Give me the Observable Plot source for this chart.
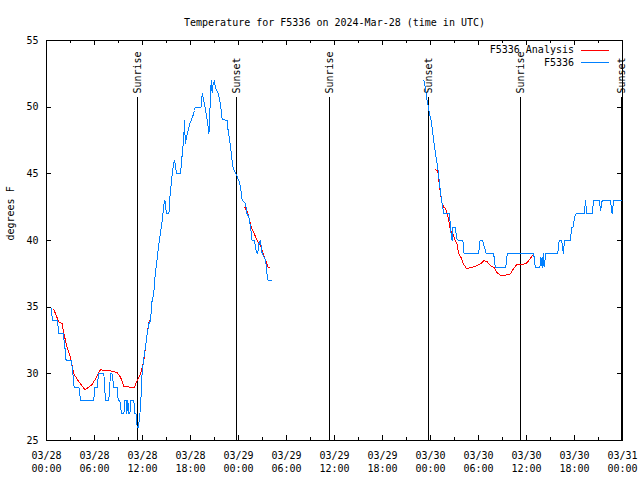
<!DOCTYPE html>
<html><head><meta charset="utf-8">
<script src="https://cdn.jsdelivr.net/npm/d3@7"></script>
<script src="https://cdn.jsdelivr.net/npm/@observablehq/plot@0.6"></script>
<style>
body{margin:0;background:#fff;}
#chart{position:relative;width:640px;height:480px;font-family:"DejaVu Sans Mono",monospace;}
#chart svg path, #chart svg line, #chart svg rect{shape-rendering:crispEdges;}
#legend{position:absolute;top:44px;right:31px;font-size:10px;line-height:12.5px;color:#000;}
.row{display:flex;align-items:center;justify-content:flex-end;white-space:pre;}
.sw{display:inline-block;width:28px;height:0;border-top:1px solid;margin-left:7px;}
</style></head>
<body><div id="chart"><div id="legend">
<div class="row">F5336 Analysis<span class="sw" style="border-color:#ff0000"></span></div>
<div class="row">F5336<span class="sw" style="border-color:#0080ff"></span></div>
</div></div>
<script>
// hours since 03/28 00:00 UTC, temperature in °F
const obsPart1 = [
 [0.0,35],[0.55,35],[0.75,34],[1.35,34],[1.55,33],[2.1,33],[2.3,32],[2.45,31],[3.1,31],[3.3,30],[3.45,29],[4.05,29],[4.25,28],[5.9,28],[6.05,29],[6.35,29],[6.5,30],[7.17,30],[7.375,28],[7.79,28],[8.0,30],[8.2,30],[8.42,29],[8.83,29],[8.96,28],[9.17,28],[9.375,27],[9.67,27],[9.79,28],[9.96,28],[10.04,27],[10.17,28],[10.29,27],[10.42,27],[10.54,28],[10.92,28],[11.04,27],[11.2,27],[11.33,26],[11.5,26],[11.67,27],[11.75,27.4],[11.96,30.2],[12.17,31.2],[12.375,32],[12.58,33],[12.79,33.75],[13.0,34],[13.2,35.5],[13.4,36],[13.6,37.5],[13.8,38.5],[14.1,40],[14.46,41.5],[14.7,42.8],[14.8,43],[14.9,42.5],[15.0,42],[15.3,42],[15.46,43.5],[15.6,44.25],[15.75,45.25],[15.9,45.75],[16.0,46],[16.1,45.75],[16.25,45],[16.75,45],[16.9,46],[17.0,46.75],[17.15,47.5],[17.25,49],[17.35,47.25],[17.5,47.75],[17.7,48.25],[17.9,48.75],[18.08,49],[18.33,49.4],[18.5,49.75],[18.6,50],[19.33,50],[19.46,51],[19.6,50.7],[19.75,50.2],[20.1,49],[20.2,48.5],[20.3,48],[20.4,49.25],[20.5,51],[20.6,52],[20.7,51.1],[20.83,51.75],[21.0,52],[21.1,51.5],[21.3,51.25],[21.5,51],[21.75,50.2],[21.96,49.1],[22.6,49],[22.7,48.25],[22.9,47.5],[23.1,46.5],[23.3,45.5],[23.75,44.9],[24.04,44.5],[24.25,44],[24.46,43],[24.9,42.75],[25.0,42.1],[25.3,41.75],[25.5,41],[25.7,40],[26.0,40],[26.25,39.1],[26.4,39],[26.54,39.75],[26.75,40],[26.96,39],[27.2,38.75],[27.4,38.5],[27.6,37.25],[27.7,37],[28.1,37]
];
const obsPart2 = [
 [47.17,52],[47.375,51.4],[47.5,50.75],[47.67,50.25],[47.875,49.5],[48.08,49],[48.29,48],[48.5,47],[48.7,46.25],[48.9,45.5],[49.04,44.75],[49.17,44],[49.33,43.25],[49.46,42.75],[49.67,42],[50.375,42],[50.46,41.25],[50.58,40.5],[50.7,40],[50.8,41],[51.1,41],[51.3,40.1],[51.5,40],[52.05,40],[52.2,39],[54.0,39],[54.2,40],[54.5,40],[54.75,39.5],[54.96,39],[55.9,39],[56.1,38],[57.4,38],[57.6,39],[60.9,39],[61.1,38],[61.67,38],[61.8,38.75],[61.96,38],[62.1,39],[62.2,38],[62.4,39],[63.9,39],[64.08,40],[64.4,40],[64.6,39],[64.75,40],[65.5,40],[65.625,41],[65.83,41],[66.0,41.75],[66.2,42],[67.2,42],[67.4,43],[67.5,42],[68.2,42],[68.4,43],[69.1,43],[69.25,42.25],[69.46,43],[70.5,43],[70.7,42],[70.9,43],[72.0,43]
];
const anaPart1 = [
 [0.92,34.8],[1.2,34.4],[1.54,33.9],[1.96,33.75],[2.17,33],[2.58,32],[3.0,31.25],[3.42,30],[3.83,29.6],[4.25,29.25],[4.8,28.8],[5.3,29],[5.7,29.2],[6.1,29.6],[6.54,30.1],[6.75,30.3],[7.4,30.25],[8.2,30.2],[8.83,30.1],[9.25,29.75],[9.67,29.05],[10.5,29],[11.0,29],[11.33,29.5],[11.75,30],[12.17,31],[12.58,33],[12.85,34]
];
const anaPart2 = [
 [24.8,42.5],[25.2,42],[25.6,41],[25.9,40.6],[26.33,40],[26.75,39.6],[27.1,39],[27.4,38.5],[27.7,38],[27.85,37.95]
];
const anaPart3 = [
 [48.6,45.3],[48.9,45.25],[49.04,44.5],[49.25,43.5],[49.46,42.75],[49.67,42.5],[49.875,42.4],[50.08,42],[50.29,41.5],[50.5,40.75],[50.8,40.5],[51.1,40],[51.3,39.75],[51.54,39],[51.8,38.75],[52.1,38.25],[52.5,37.9],[52.9,37.95],[53.3,38],[53.7,38.1],[54.25,38.25],[54.67,38.5],[55.1,38.4],[55.5,38.1],[56.0,37.95],[56.3,37.6],[56.75,37.4],[57.4,37.4],[58.0,37.5],[58.4,37.9],[58.8,38.2],[59.25,38.2],[59.875,38.25],[60.3,38.5],[60.9,39]
];
const sunEventHours = [11.375, 23.75, 35.375, 47.75, 59.25, 71.875];
const sunEventNames = ["Sunrise","Sunset","Sunrise","Sunset","Sunrise","Sunset"];
const majorTickHours = [0,6,12,18,24,30,36,42,48,54,60,66,72];
const minorTickHours = [3,9,15,21,27,33,39,45,51,57,63,69];
const tickDates = ["03/28","03/28","03/28","03/28","03/29","03/29","03/29","03/29","03/30","03/30","03/30","03/30","03/31"];
const tickTimes = ["00:00","06:00","12:00","18:00","00:00","06:00","12:00","18:00","00:00","06:00","12:00","18:00","00:00"];
const yTicks = [25,30,35,40,45,50,55];
const titleText = "Temperature for F5336 on 2024-Mar-28 (time in UTC)";
const yLabel = "degrees F";

const toRows = (arr, seg) => arr.map(([h,t]) => ({h, t, seg}));
const obs = [...toRows(obsPart1,1), ...toRows(obsPart2,2)];
const ana = [...toRows(anaPart1,1), ...toRows(anaPart2,2), ...toRows(anaPart3,3)];
const events = sunEventHours.map((h,i) => ({h, name: sunEventNames[i]}));

const W = 640, H = 480, ML = 46, MR = 18, MT = 40, MB = 40;
const FW = W - ML - MR, FH = H - MT - MB;

const chart = Plot.plot({
  width: W, height: H,
  marginLeft: ML, marginRight: MR, marginTop: MT, marginBottom: MB,
  style: {fontFamily: "DejaVu Sans Mono, monospace", fontSize: "10px", background: "white", color: "black", overflow: "visible"},
  x: {domain: [0, 72], label: null},
  y: {domain: [25, 55], label: null},
  marks: [
    Plot.ruleX(events, {x: "h", insetTop: 57, stroke: "black"}),
    Plot.text(events, {x: "h", text: "name", frameAnchor: "top", dy: 53, dx: -4, rotate: -90, textAnchor: "start", fill: "black"}),
    Plot.line(ana, {x: "h", y: "t", z: "seg", stroke: "#ff0000", strokeWidth: 1}),
    Plot.line(obs, {x: "h", y: "t", z: "seg", stroke: "#0080ff", strokeWidth: 1}),
    Plot.ruleX(majorTickHours, {x: d => d, insetTop: FH - 5, stroke: "black"}),
    Plot.ruleX(majorTickHours, {x: d => d, insetBottom: FH - 5, stroke: "black"}),
    Plot.ruleX(minorTickHours, {x: d => d, insetTop: FH - 3, stroke: "black"}),
    Plot.ruleX(minorTickHours, {x: d => d, insetBottom: FH - 3, stroke: "black"}),
    Plot.ruleY(yTicks, {y: d => d, insetRight: FW - 5, stroke: "black"}),
    Plot.ruleY(yTicks, {y: d => d, insetLeft: FW - 5, stroke: "black"}),
    Plot.axisX(majorTickHours, {tickSize: 0, tickPadding: 9, lineHeight: 1.3, fill: "black",
      tickFormat: d => { const i = majorTickHours.indexOf(d); return tickDates[i] + "\n" + tickTimes[i]; }}),
    Plot.axisY(yTicks, {tickSize: 0, tickPadding: 8, fill: "black"}),
    Plot.frame({stroke: "black"}),
    Plot.text([titleText], {frameAnchor: "top", dy: -22, fill: "black"}),
    Plot.text([yLabel], {frameAnchor: "left", dx: -36, rotate: -90, fill: "black"})
  ]
});
document.getElementById("chart").prepend(chart);
</script></body></html>
